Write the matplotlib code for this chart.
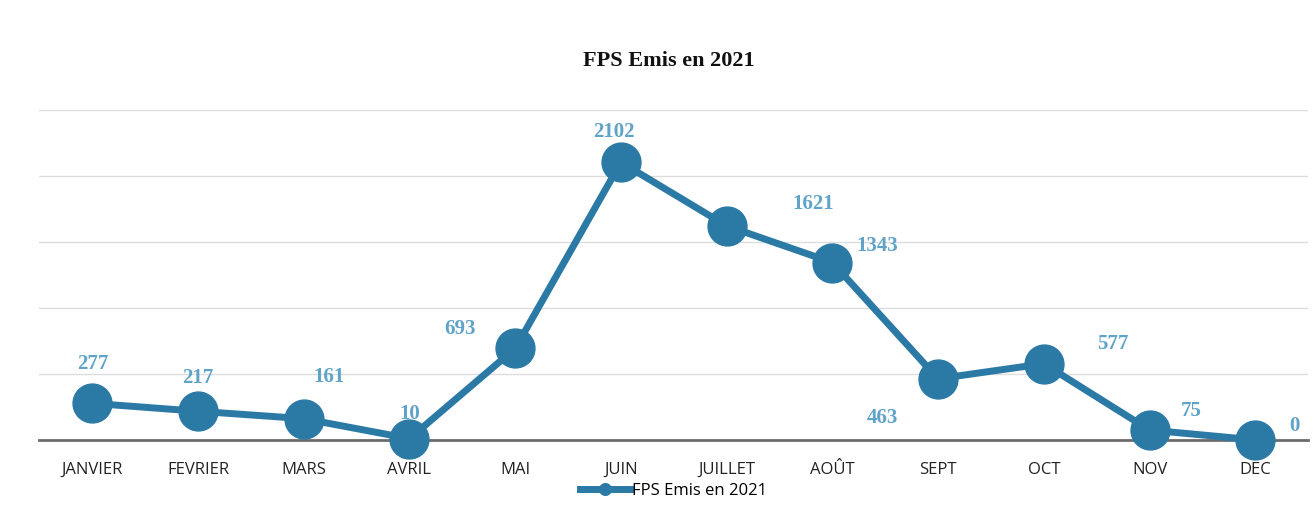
import matplotlib
matplotlib.use("Agg")
import matplotlib.pyplot as plt

months = ["JANVIER", "FEVRIER", "MARS", "AVRIL", "MAI", "JUIN",
          "JUILLET", "AOÛT", "SEPT", "OCT", "NOV", "DEC"]
values = [277, 217, 161, 10, 693, 2102, 1621, 1343, 463, 577, 75, 0]
series_name = "FPS Emis en 2021"
title = "FPS Emis en 2021"

# label offsets in points (style only)
label_offsets = [(0, 28), (0, 24), (18, 30), (0, 18), (-40, 14), (-5, 22),
                 (62, 16), (32, 12), (-40, -28), (50, 14), (30, 14), (28, 10)]

line_color = "#2b7aa6"
label_color = "#5fa3c8"

fig = plt.figure(figsize=(13.16, 5.08), dpi=100)
ax = fig.add_axes([0.03, 0.134, 0.964, 0.65])

x = list(range(len(months)))
ax.plot(x, values, color=line_color, linewidth=5, marker="o", markersize=28,
        markerfacecolor=line_color, markeredgecolor=line_color, label=series_name,
        zorder=3, clip_on=False)

for xi, v, (dx, dy) in zip(x, values, label_offsets):
    ax.annotate(str(v), (xi, v), xytext=(dx, dy), textcoords="offset points",
                ha="center", va="center", fontsize=15, fontweight="bold",
                color=label_color, family="Liberation Serif", zorder=4)

ax.set_xlim(-0.5, 11.5)
ax.set_ylim(0, 2500)
ax.set_yticks([500, 1000, 1500, 2000, 2500])
ax.set_yticklabels([])
ax.tick_params(axis="y", length=0)
ax.grid(axis="y", color="#dddddd", linewidth=1)
ax.set_axisbelow(True)
ax.set_xticks(x)
ax.set_xticklabels(months, fontsize=12, family="Open Sans", color="#222222")
ax.tick_params(axis="x", length=0, pad=16)
for s in ["top", "right", "left"]:
    ax.spines[s].set_visible(False)
ax.spines["bottom"].set_color("#6b6b6b")
ax.spines["bottom"].set_linewidth(2)

fig.text(0.508, 0.88, title, ha="center", va="center", fontsize=16,
         fontweight="bold", family="Liberation Serif", color="#111111")

leg = ax.legend(loc="center", bbox_to_anchor=(0.5, -0.155), frameon=False,
                prop={"family": "Open Sans", "size": 12},
                handlelength=3, markerscale=0.3, handletextpad=0.1)

fig.savefig("out.png", dpi=100)
